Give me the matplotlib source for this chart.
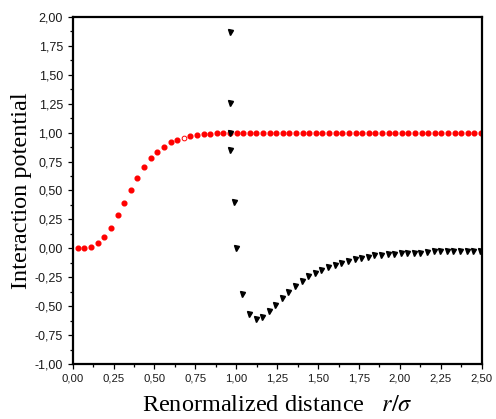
import numpy as np
import matplotlib
matplotlib.use("Agg")
from matplotlib import pyplot as plt
from matplotlib.ticker import MultipleLocator, FuncFormatter

# red circles: repulsive step
red_r = [0.032, 0.072, 0.113, 0.153, 0.194, 0.234, 0.274, 0.315, 0.355, 0.396,
         0.436, 0.476, 0.517, 0.557, 0.598, 0.638, 0.678, 0.719, 0.759, 0.800,
         0.840, 0.880, 0.921, 0.961, 1.002, 1.042, 1.082, 1.123, 1.163, 1.204,
         1.244, 1.284, 1.325, 1.365, 1.406, 1.446, 1.486, 1.527, 1.567, 1.608,
         1.648, 1.688, 1.729, 1.769, 1.810, 1.850, 1.890, 1.931, 1.971, 2.012,
         2.052, 2.092, 2.133, 2.173, 2.214, 2.254, 2.294, 2.335, 2.375, 2.416,
         2.456, 2.496]
red_u = [0.0, 0.0, 0.015, 0.046, 0.097, 0.175, 0.284, 0.391, 0.506, 0.611,
         0.705, 0.784, 0.830, 0.880, 0.916, 0.937, 0.953, 0.974, 0.981, 0.985,
         0.991, 0.994, 0.994, 0.996, 0.997, 0.998, 0.999, 0.999, 1.0, 1.0,
         1.0, 1.0, 1.0, 1.0, 1.0, 1.0, 1.0, 1.0, 1.0, 1.0,
         1.0, 1.0, 1.0, 1.0, 1.0, 1.0, 1.0, 1.0, 1.0, 1.0,
         1.0, 1.0, 1.0, 1.0, 1.0, 1.0, 1.0, 1.0, 1.0, 1.0,
         1.0, 1.0]
open_idx = 16  # the one hollow point

# black triangles: potential with attractive well
blk_r = [0.960, 0.960, 0.960, 0.960, 0.988, 0.996,
         1.037, 1.077, 1.118, 1.158, 1.198, 1.239, 1.279, 1.319, 1.360, 1.400,
         1.440, 1.481, 1.521, 1.561, 1.602, 1.642, 1.683, 1.723, 1.763, 1.804,
         1.844, 1.884, 1.925, 1.965, 2.005, 2.046, 2.086, 2.126, 2.167, 2.207,
         2.247, 2.288, 2.328, 2.368, 2.409, 2.449, 2.490]
blk_u = [1.87, 1.26, 1.00, 0.85, 0.40, 0.0,
         -0.395, -0.568, -0.614, -0.590, -0.545, -0.490, -0.430, -0.375, -0.325, -0.285,
         -0.238, -0.215, -0.186, -0.158, -0.143, -0.128, -0.111, -0.094, -0.082, -0.071,
         -0.062, -0.055, -0.050, -0.045, -0.042, -0.040, -0.040, -0.038, -0.033, -0.022,
         -0.020, -0.020, -0.020, -0.020, -0.020, -0.020, -0.020]

plt.rcParams['mathtext.fontset'] = 'stix'

fig = plt.figure(figsize=(4.96, 4.19), dpi=100)
ax = fig.add_axes([0.1466, 0.1313, 0.8244, 0.8281])

fill_r = [r for i, r in enumerate(red_r) if i != open_idx]
fill_u = [u for i, u in enumerate(red_u) if i != open_idx]
ax.plot(fill_r, fill_u, 'o', color='red', ms=3.4, mec='red')
ax.plot(red_r[open_idx], red_u[open_idx], 'o', mfc='white', mec='red', ms=3.4, mew=0.7)

# triangles on top of the circles
ax.plot(blk_r, blk_u, 'v', color='black', ms=3.6, zorder=3)

ax.set_xlim(0, 2.5)
ax.set_ylim(-1.0, 2.0)

ax.xaxis.set_major_locator(MultipleLocator(0.25))
ax.xaxis.set_minor_locator(MultipleLocator(0.125))
ax.yaxis.set_major_locator(MultipleLocator(0.25))
ax.yaxis.set_minor_locator(MultipleLocator(0.125))
comma = FuncFormatter(lambda v, _: f"{v:.2f}".replace('.', ','))
ax.xaxis.set_major_formatter(comma)
ax.yaxis.set_major_formatter(comma)

ax.tick_params(which='major', direction='out', length=3.6, width=0.9,
               labelcolor='#1a1a1a', pad=3.5)
ax.tick_params(axis='x', which='major', labelsize=8.2)
ax.tick_params(axis='y', which='major', labelsize=9)
ax.tick_params(which='minor', direction='out', length=2.0, width=0.9)
ax.tick_params(which='both', top=False, right=False)
for lab in ax.get_xticklabels() + ax.get_yticklabels():
    lab.set_family(['Liberation Sans', 'DejaVu Sans'])

for s in ax.spines.values():
    s.set_linewidth(1.6)

ax.set_xlabel(r"Renormalized distance   $r/\sigma$", family='Liberation Serif',
              fontsize=17.5, labelpad=8)
ax.set_ylabel("Interaction potential", family='Liberation Serif',
              fontsize=17.5, labelpad=2)

fig.savefig("out.png", dpi=100)
